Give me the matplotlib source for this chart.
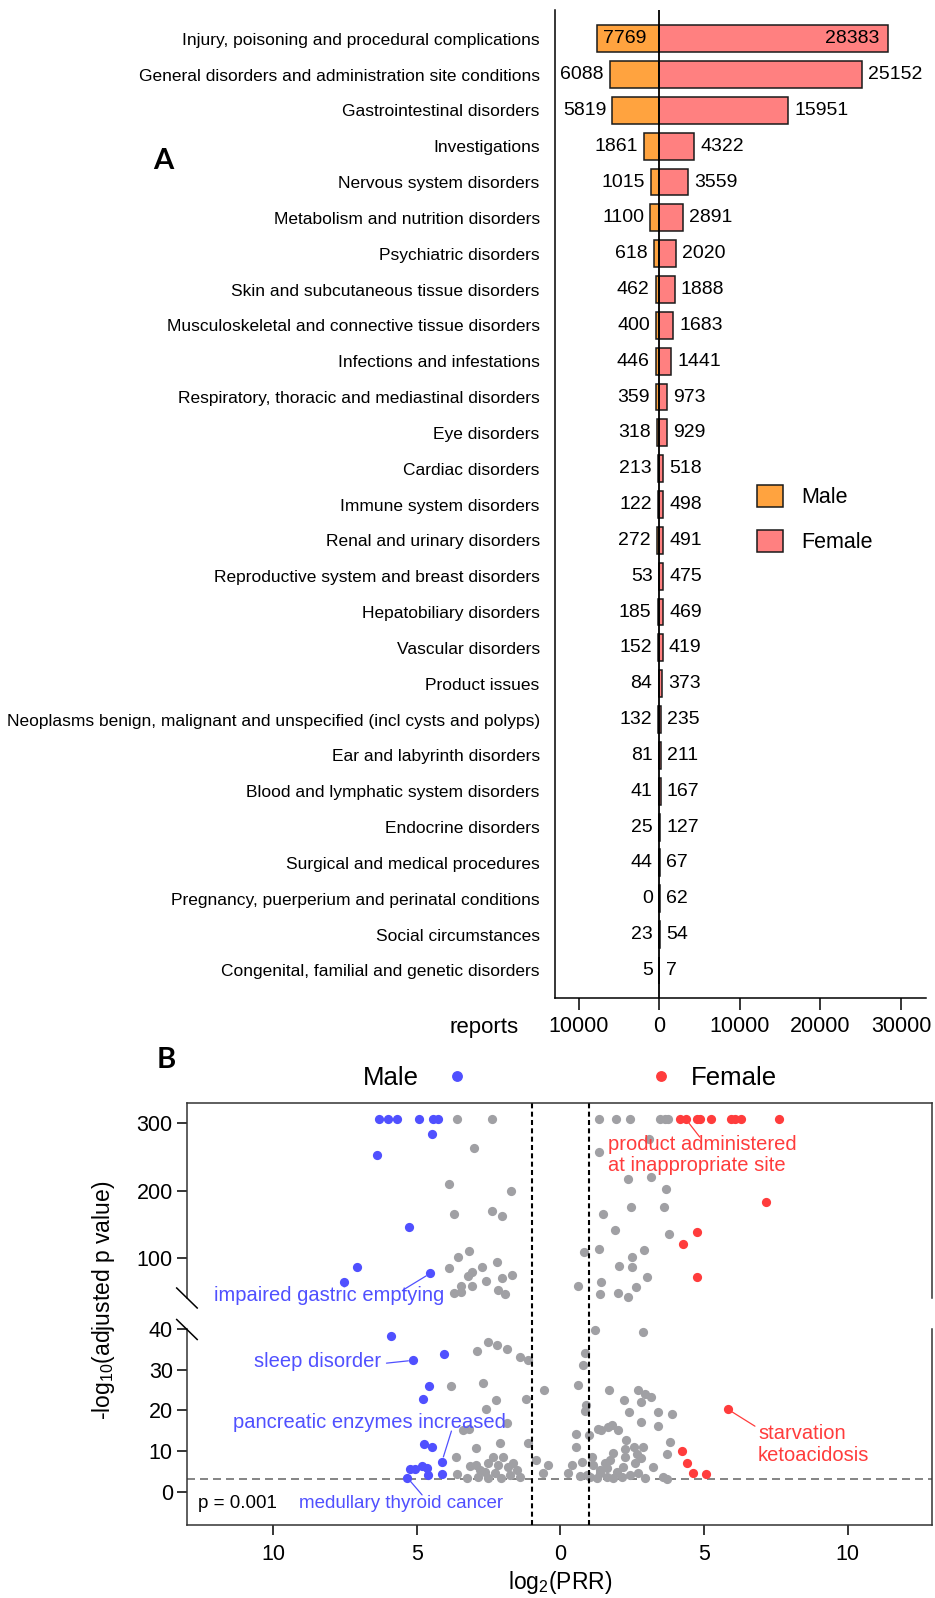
import numpy as np
import matplotlib
matplotlib.use('Agg')
import matplotlib.pyplot as plt
from matplotlib.ticker import FuncFormatter
from matplotlib.lines import Line2D
from matplotlib.patches import Patch
import matplotlib.transforms as mtransforms

plt.rcParams['font.family'] = ['Liberation Sans', 'DejaVu Sans']
plt.rcParams['mathtext.fontset'] = 'custom'
plt.rcParams['mathtext.rm'] = 'Liberation Sans'

# ---------------- Panel A data ----------------
categories = [
    "Injury, poisoning and procedural complications",
    "General disorders and administration site conditions",
    "Gastrointestinal disorders",
    "Investigations",
    "Nervous system disorders",
    "Metabolism and nutrition disorders",
    "Psychiatric disorders",
    "Skin and subcutaneous tissue disorders",
    "Musculoskeletal and connective tissue disorders",
    "Infections and infestations",
    "Respiratory, thoracic and mediastinal disorders",
    "Eye disorders",
    "Cardiac disorders",
    "Immune system disorders",
    "Renal and urinary disorders",
    "Reproductive system and breast disorders",
    "Hepatobiliary disorders",
    "Vascular disorders",
    "Product issues",
    "Neoplasms benign, malignant and unspecified (incl cysts and polyps)",
    "Ear and labyrinth disorders",
    "Blood and lymphatic system disorders",
    "Endocrine disorders",
    "Surgical and medical procedures",
    "Pregnancy, puerperium and perinatal conditions",
    "Social circumstances",
    "Congenital, familial and genetic disorders",
]
male_reports = [7769, 6088, 5819, 1861, 1015, 1100, 618, 462, 400, 446, 359, 318,
                213, 122, 272, 53, 185, 152, 84, 132, 81, 41, 25, 44, 0, 23, 5]
female_reports = [28383, 25152, 15951, 4322, 3559, 2891, 2020, 1888, 1683, 1441, 973, 929,
                  518, 498, 491, 475, 469, 419, 373, 235, 211, 167, 127, 67, 62, 54, 7]
report_ticks = [-10000, 0, 10000, 20000, 30000]

# ---------------- Panel B data (x: log2 PRR, male side negative; y: -log10 adj p) ----------------
male_x = [-6.32, -5.98, -5.70, -4.92, -4.44, -4.24, -4.45, -6.37, -5.26, -7.06, -7.53, -4.52,
          -5.90, -4.05, -5.12, -4.56, -4.77, -4.74, -4.46, -4.12, -4.12, -5.24, -5.04, -4.83,
          -4.63, -4.60, -5.32]
male_y = [306, 306, 306, 306, 306, 306, 284.5, 253, 145, 85.7, 64.3, 76.8,
          38.2, 33.9, 32.3, 25.9, 22.7, 11.7, 10.9, 7.4, 4.3, 5.6, 5.5, 6.3,
          5.7, 4.1, 3.4]
female_x = [4.16, 4.37, 4.76, 4.85, 5.23, 5.93, 6.07, 6.28, 7.59, 7.17, 4.74, 4.25, 4.74,
            5.82, 4.24, 4.41, 4.60, 5.05]
female_y = [306, 306, 306, 306, 306, 306, 306, 306, 306, 183, 138, 120.4, 71.7,
            20.3, 10.0, 7.1, 4.7, 4.3]
gray_x = [
    # upper, male side
    -3.60, -2.39, -3.00, -3.87, -1.72, -3.71, -2.37, -2.04, -3.18, -3.57, -3.87, -2.19,
    -2.71, -3.07, -3.23, -1.69, -2.04, -2.57, -3.07, -3.47, -3.70, -3.47, -2.17, -1.91,
    # upper, female side
    1.36, 1.93, 2.44, 3.46, 3.64, 3.75, 1.35, 3.08, 2.34, 3.15, 3.66, 2.45, 3.60, 1.47,
    0.82, 1.33, 1.90, 3.79, 2.90, 2.48, 2.05, 2.48, 3.02, 0.63, 1.40, 2.63, 1.99, 2.36, 1.37,
    # lower, male side
    -2.53, -2.20, -1.87, -2.89, -1.41, -1.14, -3.79, -2.69, -2.24, -1.20, -2.59, -1.85,
    -3.38, -3.17, -2.94, -2.11, -1.12, -3.64, -3.15, -2.92, -2.80, -2.51, -2.34, -2.16,
    -1.99, -1.82, -1.64, -1.52, -1.76, -1.41, -3.26, -2.86, -2.51, -2.28, -2.05, -3.61, -2.63,
    # center
    -0.83, -0.42, -0.60, -0.56,
    # lower, female side
    1.20, 2.88, 0.85, 0.79, 0.62, 0.89, 0.85, 1.32, 1.43, 0.54, 1.00, 0.56, 0.74, 0.39,
    0.27, 1.09, 1.14, 0.68, 1.03, 1.37, 1.61, 1.66, 1.70, 2.71, 2.94, 3.17, 2.21, 2.79,
    2.39, 3.38, 3.87, 2.79, 3.40, 1.78, 2.01, 2.28, 3.81, 2.56, 2.88, 2.24, 1.84, 3.72,
    2.67, 2.82, 2.24, 1.72, 3.23, 2.59, 2.19, 1.55, 1.37, 1.96, 2.42, 2.71, 2.94, 3.58,
    3.72, 0.91, 1.26, 1.61, 1.84, 2.13,
]
gray_y = [
    306, 306, 263.7, 209, 200, 165, 170, 162.5, 110.5, 100.5, 85, 94,
    86, 79, 72.8, 74, 69.3, 65.3, 57.8, 57.8, 48, 48.5, 52, 46,
    306, 306, 306, 306, 306, 306, 258, 276.6, 217.6, 220.6, 202, 175, 175, 165,
    108.5, 113, 140.5, 135.6, 112, 100.5, 87.6, 85.7, 71.7, 58, 64.3, 56.8, 48, 42, 45.5,
    36.8, 36.0, 35.0, 34.5, 33.1, 32.3, 25.9, 26.6, 22.5, 22.7, 20.3, 16.8,
    15.1, 15.3, 10.8, 11.9, 11.9, 8.4, 6.3, 6.5, 5.3, 7.1, 8.6, 6.5,
    8.6, 6.1, 7.0, 5.3, 4.1, 3.7, 3.3, 3.7, 3.3, 4.5, 3.3, 4.3, 4.9,
    7.8, 6.5, 4.5, 25.1,
    39.7, 39.2, 34.2, 31.1, 26.3, 21.2, 19.9, 15.5, 15.2, 14.3, 13.9, 11.0, 7.4, 6.5,
    4.5, 8.6, 6.5, 3.9, 3.7, 4.5, 5.9, 15.9, 25.1, 25.1, 24.1, 23.3, 22.6, 22.1,
    19.6, 19.6, 19.0, 17.2, 16.1, 16.3, 15.1, 12.8, 12.3, 11.0, 11.0, 10.6, 9.4, 9.2,
    9.2, 8.2, 8.4, 7.8, 6.1, 7.0, 6.1, 7.0, 5.3, 4.9, 4.1, 4.5, 3.3, 3.7,
    3.1, 4.1, 3.3, 3.7, 3.3, 3.7,
]
prr_ticks = [-10, -5, 0, 5, 10]
upper_yticks = [100, 200, 300]
lower_yticks = [0, 10, 20, 30, 40]

MALE_BAR = '#FFA33F'
FEMALE_BAR = '#FF8080'
EDGE = '#1a1a1a'
BLUE = '#5050FF'
RED = '#FF3C3C'
GRAY = '#A0A0A4'

W, H = 935, 1598
fig = plt.figure(figsize=(W / 100, H / 100), dpi=100)


def fx(px):
    return px / W


def fy(py):
    return 1 - py / H


absfmt = FuncFormatter(lambda v, p: f'{abs(int(round(v)))}')

# ================= Panel A =================
axA = fig.add_axes([fx(555), fy(998), fx(926) - fx(555), fy(10) - fy(998)])
ypos = np.arange(len(categories))
male_neg = [-m for m in male_reports]
axA.barh(ypos, male_neg, height=0.75, color=MALE_BAR, edgecolor=EDGE, linewidth=1.1, zorder=2)
axA.barh(ypos, female_reports, height=0.75, color=FEMALE_BAR, edgecolor=EDGE, linewidth=1.1, zorder=2)
axA.axvline(0, color='black', lw=1.3, zorder=3)
axA.set_ylim(26.77, -0.8)
axA.set_xlim(-12940, 33090)
axA.set_yticks(ypos)
axA.set_yticklabels(categories, fontsize=12.5)
axA.tick_params(axis='y', length=0, pad=11)
axA.set_xticks(report_ticks)
axA.xaxis.set_major_formatter(absfmt)
axA.tick_params(axis='x', length=8.6, width=1.1, labelsize=15.5, pad=4)
for s in ['top', 'right']:
    axA.spines[s].set_visible(False)
for s in ['left', 'bottom']:
    axA.spines[s].set_linewidth(1.1)

for i, (m, f) in enumerate(zip(male_reports, female_reports)):
    if i == 0:
        axA.annotate(str(m), xy=(-m, i), xytext=(4.5, 0), textcoords='offset points',
                     ha='left', va='center', fontsize=14, zorder=4)
        axA.annotate(str(f), xy=(f, i), xytext=(-6, 0), textcoords='offset points',
                     ha='right', va='center', fontsize=14, zorder=4)
    else:
        axA.annotate(str(m), xy=(-m, i), xytext=(-4.5, 0), textcoords='offset points',
                     ha='right', va='center', fontsize=14)
        axA.annotate(str(f), xy=(f, i), xytext=(4.5, 0), textcoords='offset points',
                     ha='left', va='center', fontsize=14)

fig.text(fx(484), fy(1028), 'reports', ha='center', va='center', fontsize=16)

axA.legend(handles=[Patch(facecolor=MALE_BAR, edgecolor=EDGE, linewidth=1.1, label='Male'),
                    Patch(facecolor=FEMALE_BAR, edgecolor=EDGE, linewidth=1.1, label='Female')],
           loc='upper left', bbox_to_anchor=(fx(757), fy(485)), bbox_transform=fig.transFigure,
           frameon=False, fontsize=15.5, handlelength=1.2, handleheight=1.2,
           handletextpad=0.85, labelspacing=1.0, borderpad=0, borderaxespad=0)

fig.text(fx(163), fy(161), 'A', fontsize=21, fontweight='bold', ha='center', va='center',
         family=['Lato', 'DejaVu Sans'])

# ================= Panel B =================
xl = (-13, 12.93)
axU = fig.add_axes([fx(186.7), fy(1298), fx(932) - fx(186.7), fy(1102.7) - fy(1298)])
axL = fig.add_axes([fx(186.7), fy(1525), fx(932) - fx(186.7), fy(1329) - fy(1525)])
axU.set_xlim(*xl)
axL.set_xlim(*xl)
axU.set_ylim(40, 330.7)
axL.set_ylim(-8.2, 40)

gx, gy = np.array(gray_x), np.array(gray_y)
mx, my = np.array(male_x), np.array(male_y)
rx, ry = np.array(female_x), np.array(female_y)
for ax, sel in [(axU, lambda v: v > 40), (axL, lambda v: v <= 40)]:
    k = sel(gy)
    ax.scatter(gx[k], gy[k], s=44, color=GRAY, linewidths=0, zorder=2, clip_on=False)
    k = sel(my)
    ax.scatter(mx[k], my[k], s=44, color=BLUE, linewidths=0, zorder=3, clip_on=False)
    k = sel(ry)
    ax.scatter(rx[k], ry[k], s=44, color=RED, linewidths=0, zorder=3, clip_on=False)

axU.spines['bottom'].set_visible(False)
axL.spines['top'].set_visible(False)
for ax in (axU, axL):
    for s in ax.spines.values():
        s.set_linewidth(1.1)
        s.set_color('#333333')
    ax.tick_params(axis='y', length=7, width=1.1, labelsize=15.5, pad=3)
axU.set_xticks([])
axU.set_yticks(upper_yticks)
axL.set_yticks(lower_yticks)
axL.set_xticks(prr_ticks)
axL.xaxis.set_major_formatter(absfmt)
axL.tick_params(axis='x', length=7, width=1.1, labelsize=15.5, pad=7)

# p = 0.001 threshold
axL.axhline(3, color='#707070', lw=1.2, linestyle=(0, (4.8, 3)), zorder=1)

# vertical |log2 PRR| = 1 lines through both segments
bt = mtransforms.blended_transform_factory(axL.transData, fig.transFigure)
for xv in (-1, 1):
    fig.add_artist(Line2D([xv, xv], [fy(1525), fy(1102.7)], transform=bt, color='black',
                          lw=1.5, linestyle=(0, (2.4, 1.6)), zorder=5))

# break marks on the left spine
for yb in (1298, 1329.5):
    fig.add_artist(Line2D([fx(186.7 - 10), fx(186.7 + 10.5)], [fy(yb - 10), fy(yb + 10)],
                          transform=fig.transFigure, color='black', lw=1.1))

# group keys above plot
legM = axU.legend(handles=[Line2D([], [], marker='o', linestyle='none', color=BLUE,
                                  markersize=6.8, label='Male')],
                  loc='center left', bbox_to_anchor=(fx(362.7), fy(1078)),
                  bbox_transform=fig.transFigure, frameon=False, fontsize=18.5,
                  markerfirst=False, handlelength=1.0, handletextpad=1.0,
                  borderpad=0, borderaxespad=0)
axU.add_artist(legM)
axU.legend(handles=[Line2D([], [], marker='o', linestyle='none', color=RED,
                           markersize=6.8, label='Female')],
           loc='center left', bbox_to_anchor=(fx(648), fy(1078)),
           bbox_transform=fig.transFigure, frameon=False, fontsize=18.5,
           markerfirst=True, handlelength=1.0, handletextpad=0.65,
           borderpad=0, borderaxespad=0)

# annotations
lkw = dict(arrowstyle='-', shrinkA=0, shrinkB=3.5, lw=0.9)
axU.text(-12.05, 43, 'impaired gastric emptying', color=BLUE, fontsize=14.5,
         ha='left', va='center', clip_on=False, zorder=6)
axU.annotate('', xy=(-4.52, 76.8), xytext=(-5.47, 52), arrowprops=dict(color=BLUE, **lkw),
             annotation_clip=False)
axL.text(-10.65, 32.0, 'sleep disorder', color=BLUE, fontsize=14.5, ha='left', va='center')
axL.annotate('', xy=(-5.12, 32.3), xytext=(-6.05, 31.6), arrowprops=dict(color=BLUE, **lkw))
axL.text(-11.38, 17.1, 'pancreatic enzymes increased', color=BLUE, fontsize=14.5,
         ha='left', va='center')
axL.annotate('', xy=(-4.12, 7.4), xytext=(-3.79, 14.9), arrowprops=dict(color=BLUE, **lkw))
axL.text(-9.10, -3.0, 'medullary thyroid cancer', color=BLUE, fontsize=13.5,
         ha='left', va='center')
axL.annotate('', xy=(-5.32, 3.4), xytext=(-4.81, -0.8), arrowprops=dict(color=BLUE, **lkw))
axL.text(-12.6, -3.0, 'p = 0.001', color='black', fontsize=13.5, ha='left', va='center')
axU.text(1.65, 252.8, 'product administered\nat inappropriate site', color=RED, fontsize=14.5,
         ha='left', va='center', linespacing=1.15)
axU.annotate('', xy=(4.37, 306), xytext=(4.85, 279.6), arrowprops=dict(color=RED, **lkw))
axL.text(6.88, 11.6, 'starvation\nketoacidosis', color=RED, fontsize=14.5,
         ha='left', va='center', linespacing=1.15)
axL.annotate('', xy=(5.82, 20.3), xytext=(6.77, 16.1), arrowprops=dict(color=RED, **lkw))

fig.text(fx(103.5), fy(1300.5), r'-log$_{\mathregular{10}}$(adjusted p value)', rotation=90,
         ha='center', va='center', fontsize=16.5)
fig.text(fx(560.5), fy(1583), r'log$_{\mathregular{2}}$(PRR)', ha='center', va='center',
         fontsize=16.5)
fig.text(fx(166), fy(1060), 'B', fontsize=21, fontweight='bold', ha='center', va='center',
         family=['Lato', 'DejaVu Sans'])

fig.savefig('out.png', dpi=100)
